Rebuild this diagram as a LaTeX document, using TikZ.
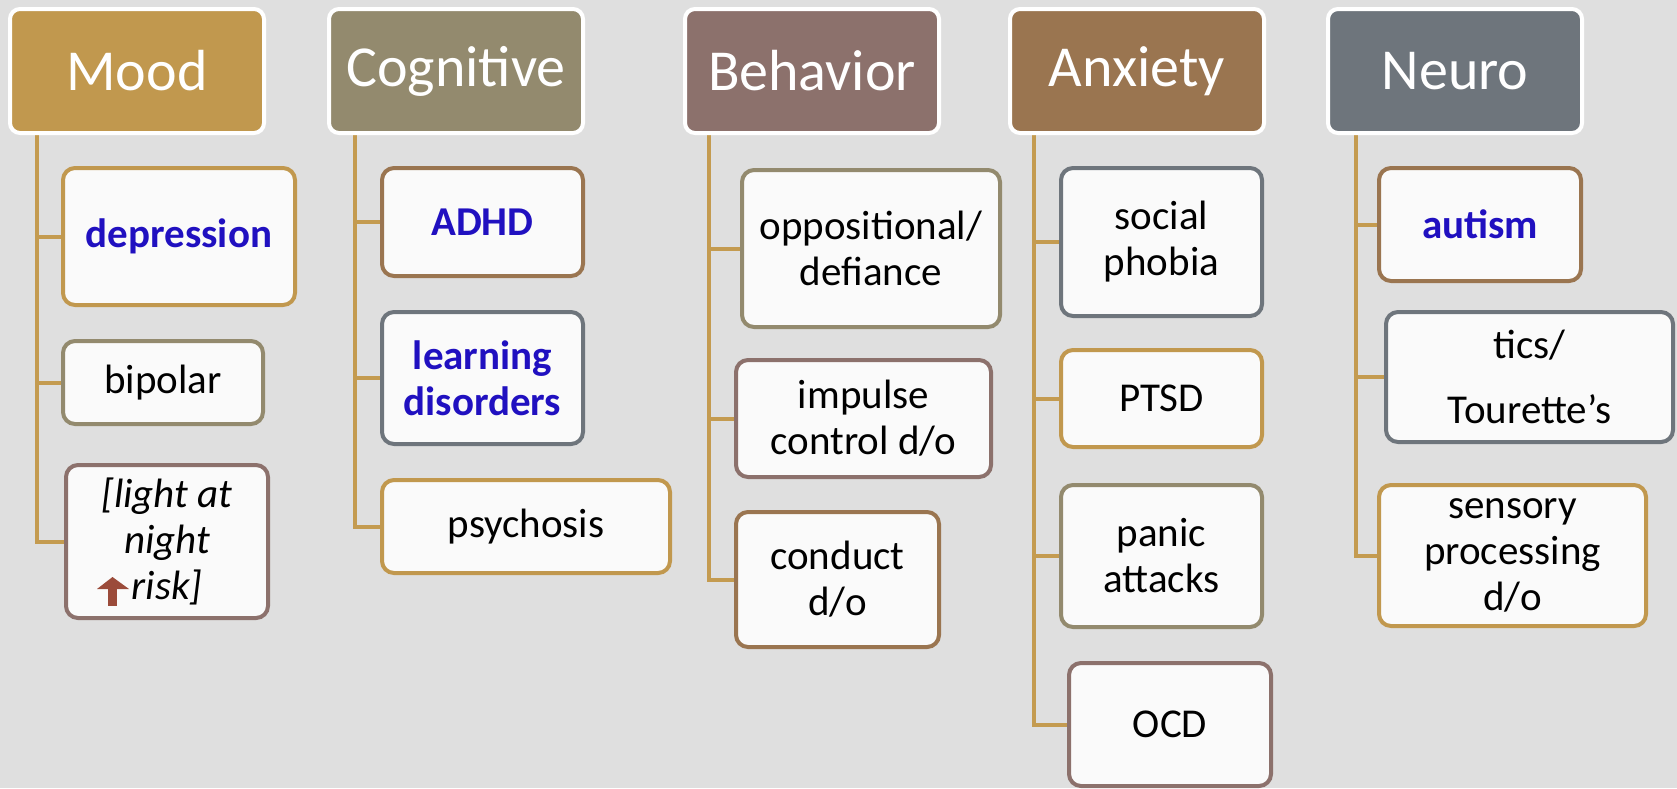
\documentclass[tikz,border=0pt]{standalone}
\usepackage{fontspec}
\setmainfont{Carlito}
\usetikzlibrary{backgrounds}
\definecolor{bg}{RGB}{223,223,223}
\definecolor{cgold}{RGB}{193,152,78}
\definecolor{colive}{RGB}{147,138,110}
\definecolor{cmauve}{RGB}{140,113,108}
\definecolor{cbrown}{RGB}{154,117,80}
\definecolor{cslate}{RGB}{110,117,124}
\definecolor{linegold}{RGB}{196,155,80}
\definecolor{hlblue}{RGB}{32,16,192}
\definecolor{boxfill}{RGB}{250,250,250}
\definecolor{arrowred}{RGB}{155,75,58}
\tikzset{
  hdr/.style={fill=#1, draw=white, line width=4pt, rounded corners=10pt,
    minimum width=254pt, minimum height=124pt, inner sep=0pt, text=white,
    font=\fontsize{58}{70}\selectfont},
  leaf/.style={draw=#1, fill=boxfill, line width=4pt, rounded corners=12pt,
    inner sep=0pt, align=center, text=black, font=\fontsize{41}{46}\selectfont},
  hl/.style={text=hlblue, font=\fontsize{41}{46}\selectfont\bfseries},
  conn/.style={draw=linegold, line width=4pt},
}
\begin{document}
\begin{tikzpicture}[x=1pt,y=-1pt]
\useasboundingbox (0,0) rectangle (1677,788);
% headers
\node[hdr=cgold]  (mood) at (137,71)  {Mood};
\node[hdr=colive] (cog)  at (456,71)  {Cognitive};
\node[hdr=cmauve] (beh)  at (812,71)  {Behavior};
\node[hdr=cbrown] (anx)  at (1137,71) {Anxiety};
\node[hdr=cslate] (neu)  at (1455,71) {Neuro};
% Mood
\node[leaf=cgold, hl, minimum width=232pt, minimum height=137pt] (dep) at (179,236.5) {depression};
\node[leaf=colive, minimum width=200pt, minimum height=83pt] (bip) at (163,382.5) {bipolar};
\node[leaf=cmauve, minimum width=202pt, minimum height=153pt, font=\fontsize{41}{46}\selectfont\itshape] (light) at (167,541.5) {[light at\\night\\risk]};
% Cognitive
\node[leaf=cbrown, hl, minimum width=201pt, minimum height=108pt] (adhd) at (482.5,222) {ADHD};
\node[leaf=cslate, hl, minimum width=201pt, minimum height=132pt] (learn) at (482.5,378) {learning\\disorders};
\node[leaf=cgold, minimum width=288pt, minimum height=93pt] (psych) at (526,526.5) {psychosis};
% Behavior
\node[leaf=colive, minimum width=258pt, minimum height=157pt] (opp) at (871,248.5) {oppositional/\\defiance};
\node[leaf=cmauve, minimum width=255pt, minimum height=117pt] (imp) at (863.5,418.5) {impulse\\control d/o};
\node[leaf=cbrown, minimum width=203pt, minimum height=135pt] (cond) at (837.5,579.5) {conduct\\d/o};
% Anxiety
\node[leaf=cslate, minimum width=201pt, minimum height=148pt] (soc) at (1161.5,242) {social\\phobia};
\node[leaf=cgold, minimum width=201pt, minimum height=97pt] (ptsd) at (1161.5,398.5) {PTSD};
\node[leaf=colive, minimum width=201pt, minimum height=142pt] (panic) at (1161.5,556) {panic\\attacks};
\node[leaf=cmauve, minimum width=202pt, minimum height=123pt] (ocd) at (1170,724.5) {OCD};
% Neuro
\node[leaf=cbrown, hl, minimum width=202pt, minimum height=113pt] (aut) at (1480,224.5) {autism};
\node[leaf=cslate, minimum width=287pt, minimum height=130pt] (tics) at (1529.5,377) {tics/\\[19pt]Tourette’s};
\node[leaf=cgold, minimum width=267pt, minimum height=141pt] (sens) at (1512.5,555.5) {sensory\\processing\\d/o};
% up arrow in the light-at-night box
\fill[arrowred] (108,587) rectangle (117,606);
\fill[arrowred] (97,589) -- (129,589) -- (112.5,577) -- cycle;
% connectors
\begin{scope}[on background layer]
\fill[bg] (0,0) rectangle (1677,788);
\coordinate (mt) at (37,134);
\coordinate (ct) at (355,134);
\coordinate (bt) at (709,134);
\coordinate (at) at (1034,134);
\coordinate (nt) at (1356,134);
\draw[conn] (mt) |- (light.west);
\draw[conn] (mt |- dep.west) -- (dep.west);
\draw[conn] (mt |- bip.west) -- (bip.west);
\draw[conn] (ct) |- (psych.west);
\draw[conn] (ct |- adhd.west) -- (adhd.west);
\draw[conn] (ct |- learn.west) -- (learn.west);
\draw[conn] (bt) |- (cond.west);
\draw[conn] (bt |- opp.west) -- (opp.west);
\draw[conn] (bt |- imp.west) -- (imp.west);
\draw[conn] (at) |- (ocd.west);
\draw[conn] (at |- soc.west) -- (soc.west);
\draw[conn] (at |- ptsd.west) -- (ptsd.west);
\draw[conn] (at |- panic.west) -- (panic.west);
\draw[conn] (nt) |- (sens.west);
\draw[conn] (nt |- aut.west) -- (aut.west);
\draw[conn] (nt |- tics.west) -- (tics.west);
\end{scope}
\end{tikzpicture}
\end{document}
